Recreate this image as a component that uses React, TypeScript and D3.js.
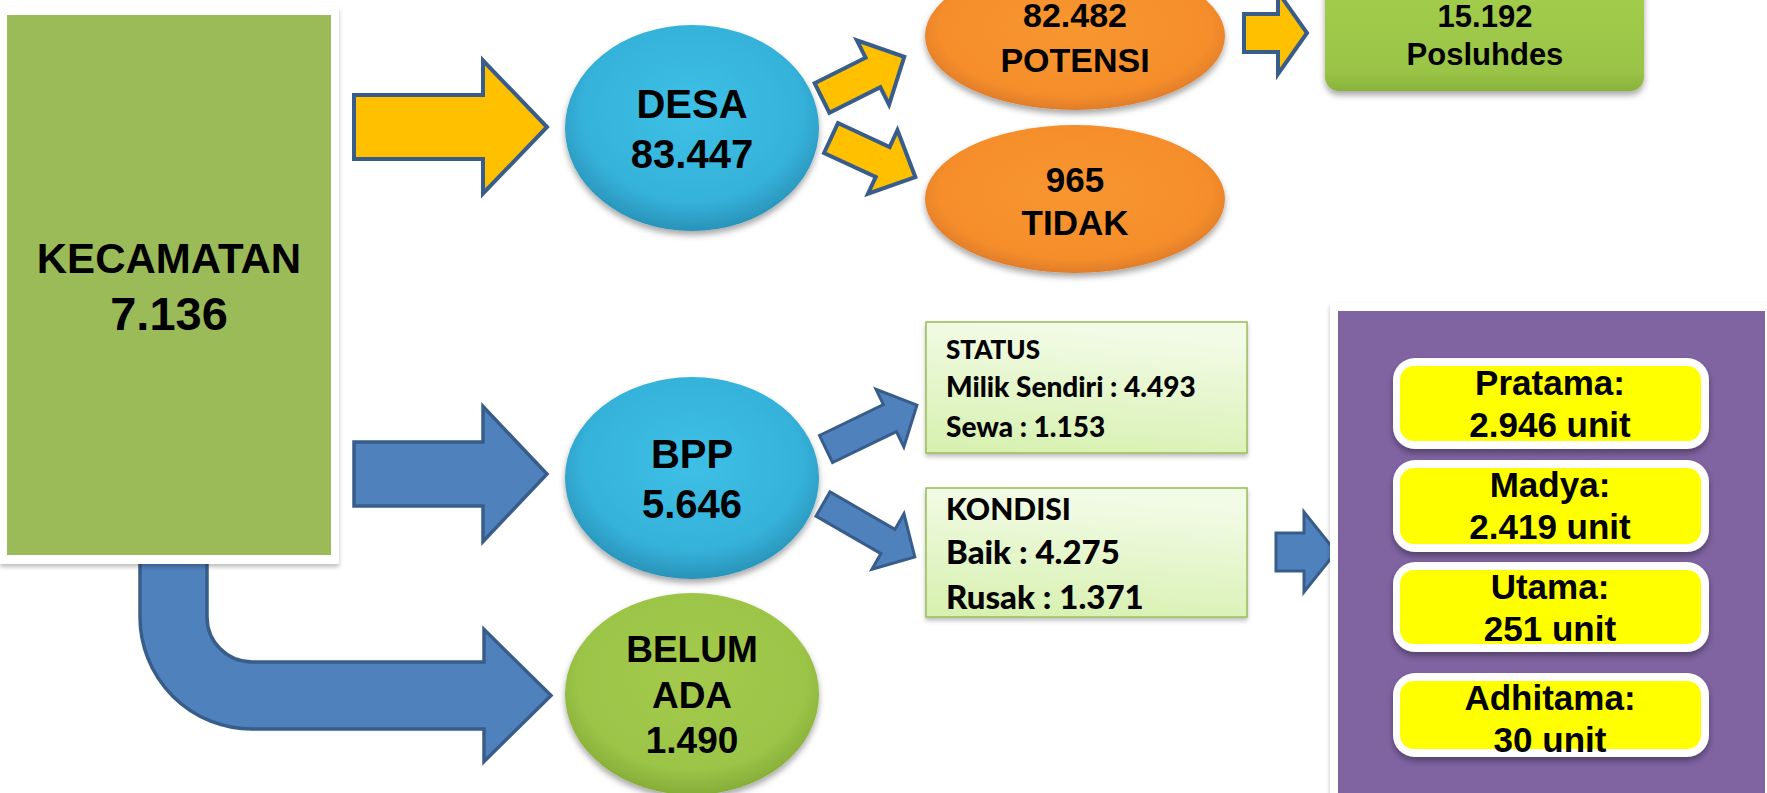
import { useEffect } from "react";
import * as d3 from "d3";

// Angka dari gambar
const nodeLabels = ["KECAMATAN", "DESA", "BPP", "BELUM ADA"];
const nodeValues = [7136, 83447, 5646, 1490];
const desaLabels = ["POTENSI", "TIDAK"];
const desaValues = [82482, 965];
const posluhdesLabel = "Posluhdes";
const posluhdesValue = 15192;
const statusTitle = "STATUS";
const statusItems = ["Milik Sendiri", "Sewa"];
const statusValues = [4493, 1153];
const kondisiTitle = "KONDISI";
const kondisiItems = ["Baik", "Rusak"];
const kondisiValues = [4275, 1371];
const kelasLabels = ["Pratama", "Madya", "Utama", "Adhitama"];
const kelasValues = [2946, 2419, 251, 30];

const W = 1767;
const H = 793;

const idFmt = d3
  .formatLocale({ decimal: ",", thousands: ".", grouping: [3], currency: ["", ""] })
  .format(",d");

const ARIAL = "'Liberation Sans', Arial, sans-serif";
const CALIBRI = "Lato, 'Open Sans', sans-serif";
const YELLOW = "#FFC000";
const BLUE = "#4F81BD";
const EDGE = "#385D8A";

// block arrow pointing along +x, tail at origin
function arrowD(len: number, shaft: number, head: number, headLen: number) {
  const pts: [number, number][] = [
    [0, -shaft / 2],
    [len - headLen, -shaft / 2],
    [len - headLen, -head / 2],
    [len, 0],
    [len - headLen, head / 2],
    [len - headLen, shaft / 2],
    [0, shaft / 2],
  ];
  return (d3.line()(pts) ?? "") + "Z";
}

function Arrow({ x, y, len, shaft, head, headLen, angle = 0, fill, sw = 3.5 }: any) {
  return (
    <path
      d={arrowD(len, shaft, head, headLen)}
      transform={`translate(${x},${y}) rotate(${angle})`}
      fill={fill}
      stroke={EDGE}
      strokeWidth={sw}
      strokeLinejoin="miter"
    />
  );
}

// bent arrow from under KECAMATAN to BELUM ADA
function bentArrowD() {
  const p = d3.path();
  const cx = 252, cy = 617, rOut = 112, rIn = 45;
  const tipX = 551, baseX = 484, midY = 695.5, headHalf = 66;
  p.moveTo(cx - rOut, 540);
  p.lineTo(cx - rOut, cy);
  p.arc(cx, cy, rOut, Math.PI, Math.PI / 2, true);
  p.lineTo(baseX, cy + rOut);
  p.lineTo(baseX, midY + headHalf);
  p.lineTo(tipX, midY);
  p.lineTo(baseX, midY - headHalf);
  p.lineTo(baseX, cy + rIn);
  p.lineTo(cx, cy + rIn);
  p.arc(cx, cy, rIn, Math.PI / 2, Math.PI, false);
  p.lineTo(cx - rIn, 540);
  p.closePath();
  return p.toString();
}

function TwoLines({ x, y, lines, size, gap, font = ARIAL }: any) {
  return (
    <text x={x} textAnchor="middle" fontFamily={font} fontWeight="bold" fontSize={size} fill="#000">
      {lines.map((l: string, i: number) => (
        <tspan key={i} x={x} y={y + i * gap}>
          {l}
        </tspan>
      ))}
    </text>
  );
}

export default function App() {
  useEffect(() => {
    document.body.style.margin = "0";
  }, []);

  const kelasTops = [358, 460, 562, 673];
  const kelasHeights = [91, 92, 90, 84];

  return (
    <svg
      width={W}
      height={H}
      viewBox={`0 0 ${W} ${H}`}
      style={{ position: "absolute", left: 0, top: 0, display: "block", background: "#fff" }}
    >
      <defs>
        <filter id="shadow" x="-20%" y="-20%" width="140%" height="150%">
          <feDropShadow dx="0" dy="4" stdDeviation="3" floodColor="#000" floodOpacity="0.35" />
        </filter>
        <filter id="softShadow" x="-10%" y="-10%" width="120%" height="130%">
          <feDropShadow dx="0" dy="3" stdDeviation="2" floodColor="#000" floodOpacity="0.25" />
        </filter>
        <radialGradient id="cyanG" cx="50%" cy="42%" r="58%">
          <stop offset="0%" stopColor="#3EC0E6" />
          <stop offset="75%" stopColor="#35B2DA" />
          <stop offset="100%" stopColor="#2A93BA" />
        </radialGradient>
        <radialGradient id="orangeG" cx="50%" cy="45%" r="58%">
          <stop offset="0%" stopColor="#F8962E" />
          <stop offset="78%" stopColor="#F58E2C" />
          <stop offset="100%" stopColor="#D9772A" />
        </radialGradient>
        <radialGradient id="limeG" cx="50%" cy="42%" r="58%">
          <stop offset="0%" stopColor="#A3CA4C" />
          <stop offset="78%" stopColor="#9CC447" />
          <stop offset="100%" stopColor="#86AD38" />
        </radialGradient>
        <linearGradient id="posG" x1="0" y1="0" x2="0" y2="1">
          <stop offset="0%" stopColor="#A6D04E" />
          <stop offset="85%" stopColor="#9AC446" />
          <stop offset="100%" stopColor="#8AB23B" />
        </linearGradient>
        <linearGradient id="paleG" x1="0.2" y1="0" x2="0" y2="1">
          <stop offset="0%" stopColor="#F2FBE6" />
          <stop offset="100%" stopColor="#D6F0AE" />
        </linearGradient>
      </defs>

      {/* bent arrow sits under the KECAMATAN frame */}
      <path d={bentArrowD()} fill={BLUE} stroke={EDGE} strokeWidth={3.5} />

      {/* KECAMATAN */}
      <rect x={0} y={7} width={339} height={557} fill="#fff" filter="url(#softShadow)" />
      <rect x={7} y={15} width={324} height={540} fill="#9BBB59" />
      <TwoLines x={169} y={273} lines={[nodeLabels[0]]} size={42} gap={0} />
      <text x={169} y={330} textAnchor="middle" fontFamily={ARIAL} fontWeight="bold" fontSize={47}>
        {idFmt(nodeValues[0])}
      </text>

      {/* main arrows */}
      <Arrow x={354} y={127} len={193} shaft={64} head={133} headLen={64} fill={YELLOW} sw={4} />
      <Arrow x={354} y={474} len={193} shaft={64} head={135} headLen={64} fill={BLUE} sw={3.5} />

      {/* DESA */}
      <ellipse cx={692} cy={128} rx={127} ry={103} fill="url(#cyanG)" filter="url(#shadow)" />
      <TwoLines x={692} y={118} lines={[nodeLabels[1], idFmt(nodeValues[1])]} size={40} gap={50} />

      <Arrow x={822} y={98} len={92} shaft={33} head={72} headLen={35} angle={-26.6} fill={YELLOW} sw={4} />
      <Arrow x={831} y={138} len={93} shaft={33} head={70} headLen={36} angle={24.9} fill={YELLOW} sw={4} />

      {/* POTENSI / TIDAK */}
      <ellipse cx={1075} cy={36} rx={150} ry={74} fill="url(#orangeG)" filter="url(#shadow)" />
      <TwoLines x={1075} y={27} lines={[idFmt(desaValues[0]), desaLabels[0]]} size={34} gap={45} />
      <ellipse cx={1075} cy={199} rx={150} ry={74} fill="url(#orangeG)" filter="url(#shadow)" />
      <TwoLines x={1075} y={192} lines={[idFmt(desaValues[1]), desaLabels[1]]} size={35} gap={43} />

      <Arrow x={1244} y={33} len={63} shaft={38} head={82} headLen={29} fill={YELLOW} sw={4} />

      {/* Posluhdes */}
      <rect x={1325} y={-40} width={319} height={131} rx={14} fill="url(#posG)" filter="url(#shadow)" />
      <TwoLines x={1485} y={27} lines={[idFmt(posluhdesValue), posluhdesLabel]} size={31} gap={38} />

      {/* BPP */}
      <ellipse cx={692} cy={478} rx={127} ry={101} fill="url(#cyanG)" filter="url(#shadow)" />
      <TwoLines x={692} y={468} lines={[nodeLabels[2], idFmt(nodeValues[2])]} size={40} gap={50} />

      <Arrow x={826} y={449} len={101} shaft={30} head={64} headLen={30} angle={-25.8} fill={BLUE} sw={3} />
      <Arrow x={823} y={504} len={106} shaft={28} head={64} headLen={31} angle={30} fill={BLUE} sw={3} />

      {/* BELUM ADA */}
      <ellipse cx={692} cy={694} rx={127} ry={101} fill="url(#limeG)" filter="url(#shadow)" />
      <TwoLines
        x={692}
        y={662}
        lines={[...nodeLabels[3].split(" "), idFmt(nodeValues[3])]}
        size={37}
        gap={45.5}
      />

      {/* STATUS */}
      <rect x={926} y={322} width={321} height={131} fill="url(#paleG)" stroke="#9BBB59" strokeWidth={1.5} filter="url(#softShadow)" />
      <text fontFamily={CALIBRI} fontWeight={900} fill="#000">
        <tspan x={946} y={359} fontSize={26}>{statusTitle}</tspan>
        {statusItems.map((s, i) => (
          <tspan key={s} x={946} y={397 + i * 40} fontSize={28}>
            {`${s} : ${idFmt(statusValues[i])}`}
          </tspan>
        ))}
      </text>

      {/* KONDISI */}
      <rect x={926} y={488} width={321} height={129} fill="url(#paleG)" stroke="#9BBB59" strokeWidth={1.5} filter="url(#softShadow)" />
      <text fontFamily={CALIBRI} fontWeight={900} fill="#000">
        <tspan x={946} y={520} fontSize={30}>{kondisiTitle}</tspan>
        {kondisiItems.map((s, i) => (
          <tspan key={s} x={946} y={564 + i * 45} fontSize={33}>
            {`${s} : ${idFmt(kondisiValues[i])}`}
          </tspan>
        ))}
      </text>

      <Arrow x={1276} y={552} len={60} shaft={38} head={80} headLen={32} fill={BLUE} sw={3} />

      {/* kelas BPP */}
      <rect x={1330} y={303} width={450} height={520} fill="#fff" filter="url(#softShadow)" />
      <rect x={1338} y={311} width={427} height={500} fill="#8064A2" />
      {kelasLabels.map((k, i) => {
        const top = kelasTops[i];
        const h = kelasHeights[i];
        return (
          <g key={k}>
            <rect x={1393} y={top} width={316} height={h} rx={22} fill="#fff" filter="url(#shadow)" />
            <rect x={1400} y={top + 8} width={301} height={h - 16} rx={14} fill="#FFFF00" />
            <TwoLines x={1550} y={top + 37} lines={[`${k}:`, `${idFmt(kelasValues[i])} unit`]} size={35} gap={42} />
          </g>
        );
      })}
    </svg>
  );
}
